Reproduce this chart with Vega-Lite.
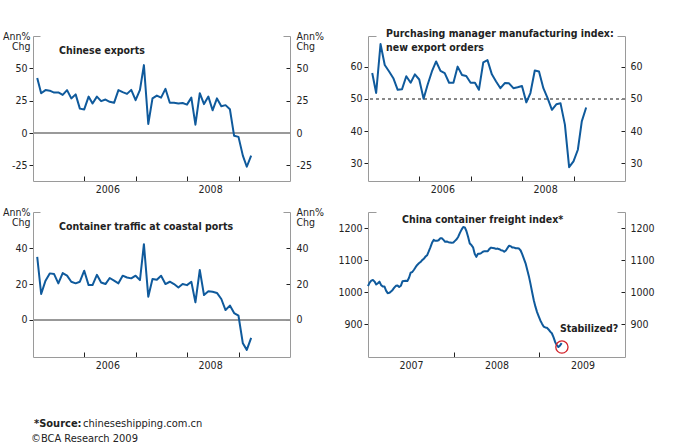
{
  "$schema": "https://vega.github.io/schema/vega-lite/v6.json",
  "padding": {"left": 2, "top": 29, "right": 5, "bottom": 2},
  "background": "white",
  "datasets": {
    "monthly": [
      {"d":"2005-01-31","exports":42.6,"pmi":58,"ports":35.3},
      {"d":"2005-02-28","exports":30.8,"pmi":51.8,"ports":14.4},
      {"d":"2005-03-31","exports":33.2,"pmi":67,"ports":21.9},
      {"d":"2005-04-30","exports":32.8,"pmi":60.5,"ports":26},
      {"d":"2005-05-31","exports":31.3,"pmi":58.5,"ports":25.6},
      {"d":"2005-06-30","exports":31.4,"pmi":56.4,"ports":20.4},
      {"d":"2005-07-31","exports":29.5,"pmi":52.8,"ports":26.2},
      {"d":"2005-08-31","exports":33.2,"pmi":53,"ports":24.7},
      {"d":"2005-09-30","exports":26.8,"pmi":57,"ports":21.3},
      {"d":"2005-10-31","exports":29.9,"pmi":55,"ports":20.4},
      {"d":"2005-11-30","exports":18.9,"pmi":57.6,"ports":21.3},
      {"d":"2005-12-31","exports":18.3,"pmi":56,"ports":27.5},
      {"d":"2006-01-31","exports":28.2,"pmi":50,"ports":19.4},
      {"d":"2006-02-28","exports":22.9,"pmi":54.3,"ports":19.4},
      {"d":"2006-03-31","exports":28.2,"pmi":58.5,"ports":25.2},
      {"d":"2006-04-30","exports":24.7,"pmi":61.6,"ports":20.9},
      {"d":"2006-05-31","exports":25.9,"pmi":58.7,"ports":20},
      {"d":"2006-06-30","exports":24.2,"pmi":58,"ports":23.4},
      {"d":"2006-07-31","exports":23.4,"pmi":55,"ports":21.9},
      {"d":"2006-08-31","exports":33.2,"pmi":55,"ports":20.4},
      {"d":"2006-09-30","exports":31.6,"pmi":60,"ports":24.7},
      {"d":"2006-10-31","exports":30.3,"pmi":57.4,"ports":23.7},
      {"d":"2006-11-30","exports":33.4,"pmi":57.1,"ports":23.2},
      {"d":"2006-12-31","exports":25.4,"pmi":55,"ports":24.7},
      {"d":"2007-01-31","exports":33.4,"pmi":55,"ports":22.2},
      {"d":"2007-02-28","exports":52.5,"pmi":52.8,"ports":42.4},
      {"d":"2007-03-31","exports":7,"pmi":61.3,"ports":12.9},
      {"d":"2007-04-30","exports":26.8,"pmi":62,"ports":22.8},
      {"d":"2007-05-31","exports":29,"pmi":57.6,"ports":22.4},
      {"d":"2007-06-30","exports":27.4,"pmi":55.4,"ports":24.7},
      {"d":"2007-07-31","exports":34.2,"pmi":53.3,"ports":20},
      {"d":"2007-08-31","exports":23.4,"pmi":54.9,"ports":21.3},
      {"d":"2007-09-30","exports":23.4,"pmi":54.8,"ports":20},
      {"d":"2007-10-31","exports":22.9,"pmi":53.3,"ports":18.1},
      {"d":"2007-11-30","exports":23.2,"pmi":53.6,"ports":20},
      {"d":"2007-12-31","exports":22,"pmi":54,"ports":19.4},
      {"d":"2008-01-31","exports":27.4,"pmi":48.9,"ports":21.3},
      {"d":"2008-02-29","exports":6.5,"pmi":51.8,"ports":9.7},
      {"d":"2008-03-31","exports":30.8,"pmi":58.8,"ports":27.9},
      {"d":"2008-04-30","exports":22.4,"pmi":58.5,"ports":13.8},
      {"d":"2008-05-31","exports":28.2,"pmi":53.3,"ports":15.9},
      {"d":"2008-06-30","exports":17.6,"pmi":50.2,"ports":15.7},
      {"d":"2008-07-31","exports":26.8,"pmi":46.6,"ports":15},
      {"d":"2008-08-31","exports":20.8,"pmi":48.3,"ports":11.6},
      {"d":"2008-09-30","exports":21.6,"pmi":48.6,"ports":5.4},
      {"d":"2008-10-31","exports":18.4,"pmi":42,"ports":7.9},
      {"d":"2008-11-30","exports":-2.1,"pmi":28.8,"ports":3.7},
      {"d":"2008-12-31","exports":-2.9,"pmi":30.6,"ports":2.2},
      {"d":"2009-01-31","exports":-17.4,"pmi":34.2,"ports":-13.3},
      {"d":"2009-02-28","exports":-26,"pmi":43,"ports":-17},
      {"d":"2009-03-31","exports":-17.4,"pmi":47.3,"ports":-10.3}
    ],
    "ccfi": [
      {"d":"2007-01-01","v":1019},{"d":"2007-01-08","v":1030},{"d":"2007-01-15","v":1036},{"d":"2007-01-22","v":1038},
      {"d":"2007-01-29","v":1033},{"d":"2007-02-05","v":1024},{"d":"2007-02-12","v":1028},{"d":"2007-02-19","v":1033},
      {"d":"2007-02-26","v":1022},{"d":"2007-03-05","v":1018},{"d":"2007-03-12","v":1018},{"d":"2007-03-19","v":1005},
      {"d":"2007-03-26","v":997},{"d":"2007-04-02","v":998},{"d":"2007-04-09","v":1002},{"d":"2007-04-16","v":1007},
      {"d":"2007-04-23","v":1014},{"d":"2007-04-30","v":1020},{"d":"2007-05-07","v":1021},{"d":"2007-05-14","v":1016},
      {"d":"2007-05-21","v":1020},{"d":"2007-05-28","v":1034},{"d":"2007-06-04","v":1035},{"d":"2007-06-11","v":1036},
      {"d":"2007-06-18","v":1035},{"d":"2007-06-25","v":1045},{"d":"2007-07-02","v":1061},{"d":"2007-07-09","v":1063},
      {"d":"2007-07-16","v":1070},{"d":"2007-07-23","v":1078},{"d":"2007-07-30","v":1085},{"d":"2007-08-06","v":1090},
      {"d":"2007-08-13","v":1094},{"d":"2007-08-20","v":1100},{"d":"2007-08-27","v":1104},{"d":"2007-09-03","v":1111},
      {"d":"2007-09-10","v":1115},{"d":"2007-09-17","v":1127},{"d":"2007-09-24","v":1140},{"d":"2007-10-01","v":1154},
      {"d":"2007-10-08","v":1163},{"d":"2007-10-15","v":1160},{"d":"2007-10-22","v":1160},{"d":"2007-10-29","v":1162},
      {"d":"2007-11-05","v":1168},{"d":"2007-11-12","v":1168},{"d":"2007-11-19","v":1163},{"d":"2007-11-26","v":1157},
      {"d":"2007-12-03","v":1158},{"d":"2007-12-10","v":1156},{"d":"2007-12-17","v":1155},{"d":"2007-12-24","v":1154},
      {"d":"2007-12-31","v":1155},{"d":"2008-01-07","v":1160},{"d":"2008-01-14","v":1165},{"d":"2008-01-21","v":1173},
      {"d":"2008-01-28","v":1185},{"d":"2008-02-04","v":1195},{"d":"2008-02-11","v":1203},{"d":"2008-02-18","v":1202},
      {"d":"2008-02-25","v":1190},{"d":"2008-03-03","v":1172},{"d":"2008-03-10","v":1152},{"d":"2008-03-17","v":1147},
      {"d":"2008-03-24","v":1140},{"d":"2008-03-31","v":1120},{"d":"2008-04-07","v":1110},{"d":"2008-04-14","v":1120},
      {"d":"2008-04-21","v":1120},{"d":"2008-04-28","v":1122},{"d":"2008-05-05","v":1126},{"d":"2008-05-12","v":1128},
      {"d":"2008-05-19","v":1128},{"d":"2008-05-26","v":1128},{"d":"2008-06-02","v":1135},{"d":"2008-06-09","v":1139},
      {"d":"2008-06-16","v":1138},{"d":"2008-06-23","v":1137},{"d":"2008-06-30","v":1135},{"d":"2008-07-07","v":1136},
      {"d":"2008-07-14","v":1134},{"d":"2008-07-21","v":1131},{"d":"2008-07-28","v":1130},{"d":"2008-08-04","v":1126},
      {"d":"2008-08-11","v":1130},{"d":"2008-08-18","v":1138},{"d":"2008-08-25","v":1145},{"d":"2008-09-01","v":1143},
      {"d":"2008-09-08","v":1139},{"d":"2008-09-15","v":1139},{"d":"2008-09-22","v":1137},{"d":"2008-09-29","v":1137},
      {"d":"2008-10-06","v":1136},{"d":"2008-10-13","v":1130},{"d":"2008-10-20","v":1118},{"d":"2008-10-27","v":1104},
      {"d":"2008-11-03","v":1090},{"d":"2008-11-10","v":1070},{"d":"2008-11-17","v":1050},{"d":"2008-11-24","v":1026},
      {"d":"2008-12-01","v":1000},{"d":"2008-12-08","v":975},{"d":"2008-12-15","v":955},{"d":"2008-12-22","v":938},
      {"d":"2008-12-29","v":925},{"d":"2009-01-05","v":912},{"d":"2009-01-12","v":902},{"d":"2009-01-19","v":893},
      {"d":"2009-01-26","v":890},{"d":"2009-02-02","v":889},{"d":"2009-02-09","v":884},{"d":"2009-02-16","v":877},
      {"d":"2009-02-23","v":872},{"d":"2009-03-02","v":860},{"d":"2009-03-09","v":845},{"d":"2009-03-16","v":835},
      {"d":"2009-03-23","v":829},{"d":"2009-03-30","v":834},{"d":"2009-04-06","v":841}
    ]
  },
  "columns": 2,
  "spacing": {"row": 31, "column": 78},
  "bounds": "flush",
  "concat": [
    {
      "width": 257, "height": 145,
      "title": {"text": "Chinese exports", "dx": 26, "offset": -25},
      "data": {"name": "monthly"},
      "layer": [
        {
          "mark": {"type": "rule", "color": "#9a9a9a", "strokeWidth": 1},
          "encoding": {
            "y": {"datum": 0, "type": "quantitative", "title": null,
              "scale": {"domain": [-37, 75], "nice": false, "zero": false},
              "axis": {"orient": "right", "values": [-25, 0, 25, 50, 75],
                "labelExpr": "datum.value == 75 ? ['Ann%', 'Chg'] : '' + datum.value",
                "tickSize": {"condition": {"test": "datum.value == 75", "value": -7}, "value": -4},
                "tickColor": {"condition": {"test": "datum.value == 75", "value": "#9a9a9a"}, "value": "#222222"},
                "labelPadding": {"condition": {"test": "datum.value == 75", "value": 13}, "value": 10}}}
          }
        },
        {
          "mark": {"type": "line"},
          "encoding": {
            "x": {"field": "d", "type": "temporal", "title": null,
              "scale": {"domain": [{"year": 2005, "month": 1, "date": 1}, {"year": 2010, "month": 1, "date": 1}]},
              "axis": {"values": [{"year": 2006, "month": 1, "date": 1}, {"year": 2007, "month": 1, "date": 1}, {"year": 2008, "month": 1, "date": 1}, {"year": 2009, "month": 1, "date": 1}],
                "labelExpr": "year(datum.value) % 2 == 0 ? timeFormat(datum.value, '%Y') : ''",
                "labelOffset": 23, "labelPadding": 8, "tickSize": -5}},
            "y": {"field": "exports", "type": "quantitative", "title": null,
              "scale": {"domain": [-37, 75], "nice": false, "zero": false},
              "axis": {"orient": "left", "values": [-25, 0, 25, 50, 75],
                "labelExpr": "datum.value == 75 ? ['Ann%', 'Chg'] : '' + datum.value",
                "tickSize": {"condition": {"test": "datum.value == 75", "value": -7}, "value": 4},
                "tickColor": {"condition": {"test": "datum.value == 75", "value": "#9a9a9a"}, "value": "#222222"},
                "labelPadding": {"condition": {"test": "datum.value == 75", "value": 10}, "value": 2}}}
          }
        }
      ],
      "resolve": {"axis": {"y": "independent"}}
    },
    {
      "width": 257, "height": 145,
      "title": {"text": ["Purchasing manager manufacturing index:", "new export orders"], "dx": 18, "offset": -22.5},
      "data": {"name": "monthly"},
      "layer": [
        {
          "mark": {"type": "rule", "color": "#8a8a8a", "strokeWidth": 1, "strokeDash": [3, 3]},
          "encoding": {
            "y": {"datum": 50, "type": "quantitative", "title": null,
              "scale": {"domain": [24.5, 69.5], "nice": false, "zero": false},
              "axis": {"orient": "right", "values": [30, 40, 50, 60, 69.5],
                "labelExpr": "datum.value > 69 ? '' : '' + datum.value",
                "tickSize": {"condition": {"test": "datum.value > 69", "value": -8}, "value": -4},
                "tickColor": {"condition": {"test": "datum.value > 69", "value": "#9a9a9a"}, "value": "#222222"},
                "labelPadding": 9}}
          }
        },
        {
          "mark": {"type": "line"},
          "encoding": {
            "x": {"field": "d", "type": "temporal", "title": null,
              "scale": {"domain": [{"year": 2005, "month": 1, "date": 1}, {"year": 2010, "month": 1, "date": 1}]},
              "axis": {"values": [{"year": 2006, "month": 1, "date": 1}, {"year": 2007, "month": 1, "date": 1}, {"year": 2008, "month": 1, "date": 1}, {"year": 2009, "month": 1, "date": 1}],
                "labelExpr": "year(datum.value) % 2 == 0 ? timeFormat(datum.value, '%Y') : ''",
                "labelOffset": 23, "labelPadding": 8, "tickSize": -5}},
            "y": {"field": "pmi", "type": "quantitative", "title": null,
              "scale": {"domain": [24.5, 69.5], "nice": false, "zero": false},
              "axis": {"orient": "left", "values": [30, 40, 50, 60, 69.5],
                "labelExpr": "datum.value > 69 ? '' : '' + datum.value",
                "tickSize": {"condition": {"test": "datum.value > 69", "value": -8}, "value": 4},
                "tickColor": {"condition": {"test": "datum.value > 69", "value": "#9a9a9a"}, "value": "#222222"},
                "labelPadding": 2}}
          }
        }
      ],
      "resolve": {"axis": {"y": "independent"}}
    },
    {
      "width": 257, "height": 145,
      "title": {"text": "Container traffic at coastal ports", "dx": 26, "offset": -25},
      "data": {"name": "monthly"},
      "layer": [
        {
          "mark": {"type": "rule", "color": "#9a9a9a", "strokeWidth": 1},
          "encoding": {
            "y": {"datum": 0, "type": "quantitative", "title": null,
              "scale": {"domain": [-21, 60.5], "nice": false, "zero": false},
              "axis": {"orient": "right", "values": [0, 20, 40, 60.5],
                "labelExpr": "datum.value > 60 ? ['Ann%', 'Chg'] : '' + datum.value",
                "tickSize": {"condition": {"test": "datum.value > 60", "value": -7}, "value": -4},
                "tickColor": {"condition": {"test": "datum.value > 60", "value": "#9a9a9a"}, "value": "#222222"},
                "labelPadding": {"condition": {"test": "datum.value > 60", "value": 13}, "value": 10}}}
          }
        },
        {
          "mark": {"type": "line"},
          "encoding": {
            "x": {"field": "d", "type": "temporal", "title": null,
              "scale": {"domain": [{"year": 2005, "month": 1, "date": 1}, {"year": 2010, "month": 1, "date": 1}]},
              "axis": {"values": [{"year": 2006, "month": 1, "date": 1}, {"year": 2007, "month": 1, "date": 1}, {"year": 2008, "month": 1, "date": 1}, {"year": 2009, "month": 1, "date": 1}],
                "labelExpr": "year(datum.value) % 2 == 0 ? timeFormat(datum.value, '%Y') : ''",
                "labelOffset": 23, "labelPadding": 8, "tickSize": -5}},
            "y": {"field": "ports", "type": "quantitative", "title": null,
              "scale": {"domain": [-21, 60.5], "nice": false, "zero": false},
              "axis": {"orient": "left", "values": [0, 20, 40, 60.5],
                "labelExpr": "datum.value > 60 ? ['Ann%', 'Chg'] : '' + datum.value",
                "tickSize": {"condition": {"test": "datum.value > 60", "value": -7}, "value": 4},
                "tickColor": {"condition": {"test": "datum.value > 60", "value": "#9a9a9a"}, "value": "#222222"},
                "labelPadding": {"condition": {"test": "datum.value > 60", "value": 10}, "value": 2}}}
          }
        }
      ],
      "resolve": {"axis": {"y": "independent"}}
    },
    {
      "width": 257, "height": 145,
      "title": {"text": "China container freight index*", "dx": 34, "offset": -18},
      "data": {"name": "ccfi"},
      "layer": [
        {
          "mark": {"type": "line"},
          "encoding": {
            "x": {"field": "d", "type": "temporal", "title": null,
              "scale": {"domain": [{"year": 2007, "month": 1, "date": 1}, {"year": 2010, "month": 1, "date": 1}]},
              "axis": {"values": [{"year": 2007, "month": 1, "date": 1}, {"year": 2008, "month": 1, "date": 1}, {"year": 2009, "month": 1, "date": 1}],
                "labelExpr": "timeFormat(datum.value, '%Y')",
                "tickOpacity": {"condition": {"test": "year(datum.value) == 2007", "value": 0}, "value": 1},
                "labelOffset": 43, "labelPadding": 8, "tickSize": -5}},
            "y": {"field": "v", "type": "quantitative", "title": null,
              "scale": {"domain": [798, 1250], "nice": false, "zero": false},
              "axis": {"orient": "left", "values": [900, 1000, 1100, 1200, 1250],
                "labelExpr": "datum.value > 1240 ? '' : '' + datum.value",
                "tickSize": {"condition": {"test": "datum.value > 1240", "value": -8}, "value": 4},
                "tickColor": {"condition": {"test": "datum.value > 1240", "value": "#9a9a9a"}, "value": "#222222"},
                "labelPadding": 2}}
          }
        },
        {
          "transform": [
            {"joinaggregate": [{"op": "min", "field": "v", "as": "vmin"}]},
            {"filter": "datum.v == datum.vmin"}
          ],
          "mark": {"type": "point", "shape": "circle", "filled": false, "color": "#d2232a", "strokeWidth": 1.3, "size": 150, "opacity": 1, "xOffset": 3.5},
          "encoding": {
            "x": {"field": "d", "type": "temporal", "title": null},
            "y": {"field": "v", "type": "quantitative", "title": null,
              "axis": {"orient": "right", "values": [900, 1000, 1100, 1200, 1250],
                "labelExpr": "datum.value > 1240 ? '' : '' + datum.value",
                "tickSize": {"condition": {"test": "datum.value > 1240", "value": -8}, "value": -4},
                "tickColor": {"condition": {"test": "datum.value > 1240", "value": "#9a9a9a"}, "value": "#222222"},
                "labelPadding": 9}}
          }
        },
        {
          "transform": [
            {"joinaggregate": [{"op": "min", "field": "v", "as": "vmin"}]},
            {"filter": "datum.v == datum.vmin"}
          ],
          "mark": {"type": "text", "text": "Stabilized?", "align": "left", "baseline": "middle", "dx": 1.5, "dy": -18, "fontWeight": "bold", "fontSize": 10.5},
          "encoding": {
            "x": {"field": "d", "type": "temporal", "title": null},
            "y": {"field": "v", "type": "quantitative", "axis": null}
          }
        }
      ],
      "resolve": {"axis": {"y": "independent"}}
    },
    {
      "width": 257, "height": 15,
      "data": {"values": [
        {"line": "1", "part": "*Source:"},
        {"line": "1", "part": "chineseshipping.com.cn"},
        {"line": "2", "part": "©BCA Research 2009"}
      ]},
      "encoding": {
        "y": {"field": "line", "type": "ordinal", "scale": {"type": "point", "padding": 0}, "axis": null},
        "x": {"value": 0},
        "text": {"field": "part"}
      },
      "layer": [
        {"transform": [{"filter": "datum.part == '*Source:'"}],
         "mark": {"type": "text", "align": "left", "baseline": "middle", "fontWeight": "bold", "fontSize": 11, "dx": 1, "dy": 36}},
        {"transform": [{"filter": "datum.part == 'chineseshipping.com.cn'"}],
         "mark": {"type": "text", "align": "left", "baseline": "middle", "fontSize": 11, "dx": 50, "dy": 36}},
        {"transform": [{"filter": "datum.line == '2'"}],
         "mark": {"type": "text", "align": "left", "baseline": "middle", "fontSize": 11, "dx": -2, "dy": 36}}
      ]
    }
  ],
  "config": {
    "view": {"stroke": null},
    "font": "Liberation Sans Narrow, DejaVu Sans Condensed, sans-serif",
    "axis": {
      "grid": false, "domainColor": "#9a9a9a", "domainWidth": 1, "tickColor": "#222222", "tickWidth": 1,
      "labelColor": "#222222", "labelFont": "Liberation Sans Narrow, DejaVu Sans Condensed, sans-serif",
      "labelFontSize": 10.5, "labelFlush": false, "labelOverlap": false, "labelBound": false, "labelLineHeight": 10.5
    },
    "title": {
      "font": "Liberation Sans Narrow, DejaVu Sans Condensed, sans-serif", "fontSize": 10.5, "fontWeight": "bold",
      "color": "#222222", "anchor": "start", "frame": "group", "baseline": "alphabetic", "lineHeight": 14
    },
    "line": {"color": "#0f5a9c", "strokeWidth": 2, "strokeJoin": "round"},
    "text": {"font": "Liberation Sans Narrow, DejaVu Sans Condensed, sans-serif", "color": "#222222"}
  }
}
